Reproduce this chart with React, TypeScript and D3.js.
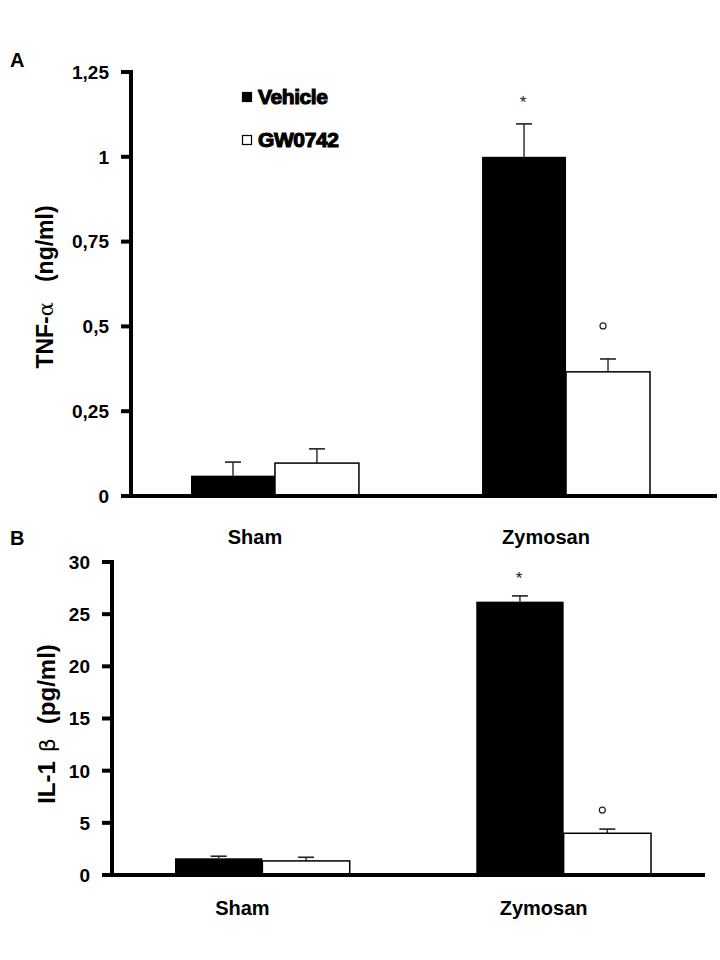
import React, { useEffect, useRef } from "react";
import * as d3 from "d3";

const categories = ["Sham", "Zymosan"];
const seriesNames = ["Vehicle", "GW0742"];

// panel A: TNF-alpha (ng/ml)
const tnfVehicle = [0.06, 1.0];
const tnfVehicleErr = [0.04, 0.097];
const tnfGw = [0.097, 0.366];
const tnfGwErr = [0.042, 0.038];
const tnfTicks = [0, 0.25, 0.5, 0.75, 1, 1.25];
const tnfTickLabels = ["0", "0,25", "0,5", "0,75", "1", "1,25"];

// panel B: IL-1 beta (pg/ml)
const ilVehicle = [1.6, 26.2];
const ilVehicleErr = [0.2, 0.55];
const ilGw = [1.35, 4.0];
const ilGwErr = [0.35, 0.4];
const ilTicks = [0, 5, 10, 15, 20, 25, 30];
const ilTickLabels = ["0", "5", "10", "15", "20", "25", "30"];

// significance marks: [category, series, symbol]
const tnfMarks = [["Zymosan", "Vehicle", "*"], ["Zymosan", "GW0742", "o"]];
const ilMarks = [["Zymosan", "Vehicle", "*"], ["Zymosan", "GW0742", "o"]];

const FONT = "'Liberation Sans', Arial, sans-serif";

function drawPanel(svg, opts) {
  const { yDomain, yRange, xRange, pad, axisX, axisRight, ticks, tickLabels, vehicle, vehicleErr, gw, gwErr, marks, labelY, markOffsets } = opts;
  const y = d3.scaleLinear().domain(yDomain).range(yRange);
  const x0 = d3.scaleBand().domain(categories).range(xRange).paddingInner(pad).paddingOuter(0);
  const x1 = d3.scaleBand().domain(seriesNames).range([0, x0.bandwidth()]);
  const g = svg.append("g");

  const rows = [];
  categories.forEach((c, i) => {
    rows.push({ cat: c, ser: "Vehicle", v: vehicle[i], e: vehicleErr[i] });
    rows.push({ cat: c, ser: "GW0742", v: gw[i], e: gwErr[i] });
  });

  // error bars (drawn first so bar tops cover the stem base)
  const eb = g.selectAll(".err").data(rows).enter().append("g");
  eb.append("line")
    .attr("x1", (d) => x0(d.cat) + x1(d.ser) + x1.bandwidth() / 2)
    .attr("x2", (d) => x0(d.cat) + x1(d.ser) + x1.bandwidth() / 2)
    .attr("y1", (d) => y(d.v))
    .attr("y2", (d) => y(d.v + d.e))
    .attr("stroke", "#333")
    .attr("stroke-width", 1.5);
  eb.append("line")
    .attr("x1", (d) => x0(d.cat) + x1(d.ser) + x1.bandwidth() / 2 - 8)
    .attr("x2", (d) => x0(d.cat) + x1(d.ser) + x1.bandwidth() / 2 + 8)
    .attr("y1", (d) => y(d.v + d.e))
    .attr("y2", (d) => y(d.v + d.e))
    .attr("stroke", "#222")
    .attr("stroke-width", 1.6);

  g.selectAll(".bar").data(rows).enter().append("rect")
    .attr("x", (d) => x0(d.cat) + x1(d.ser))
    .attr("y", (d) => y(d.v))
    .attr("width", x1.bandwidth())
    .attr("height", (d) => y(0) - y(d.v))
    .attr("fill", (d) => (d.ser === "Vehicle" ? "#000" : "#fff"))
    .attr("stroke", "#000")
    .attr("stroke-width", (d) => (d.ser === "Vehicle" ? 0 : 1.5));

  // significance marks
  marks.forEach(([c, s, sym]) => {
    const row = rows.find((r) => r.cat === c && r.ser === s);
    const cx = x0(c) + x1(s) + x1.bandwidth() / 2;
    const top = y(row.v + row.e);
    if (sym === "*") {
      g.append("text").attr("x", cx - 1).attr("y", top - markOffsets[0])
        .attr("text-anchor", "middle").attr("font-family", FONT)
        .attr("font-size", 17).attr("fill", "#222").text("*");
    } else {
      g.append("circle").attr("cx", cx - 5).attr("cy", top - markOffsets[1])
        .attr("r", 3).attr("fill", "none").attr("stroke", "#222").attr("stroke-width", 1.2);
    }
  });

  // axes
  g.append("line").attr("x1", axisX).attr("x2", axisX)
    .attr("y1", y(yDomain[1]) - 2).attr("y2", y(0) + 2)
    .attr("stroke", "#000").attr("stroke-width", 4);
  g.append("line").attr("x1", axisX - 10).attr("x2", axisRight)
    .attr("y1", y(0)).attr("y2", y(0))
    .attr("stroke", "#000").attr("stroke-width", 4);
  ticks.forEach((t, i) => {
    g.append("line").attr("x1", axisX - 10).attr("x2", axisX)
      .attr("y1", y(t)).attr("y2", y(t))
      .attr("stroke", "#000").attr("stroke-width", 4);
    g.append("text").attr("x", axisX - 22).attr("y", y(t)).attr("dy", "0.36em")
      .attr("text-anchor", "end").attr("font-family", FONT)
      .attr("font-weight", "bold").attr("font-size", 19).text(tickLabels[i]);
  });

  // category labels
  g.selectAll(".cat").data(categories).enter().append("text")
    .attr("x", (d) => x0(d) + x0.bandwidth() / 2 - 20)
    .attr("y", labelY)
    .attr("text-anchor", "middle").attr("font-family", FONT)
    .attr("font-weight", "bold").attr("font-size", 20).text((d) => d);
}

const App = () => {
  const ref = useRef(null);

  useEffect(() => {
    const svg = d3.select(ref.current);
    svg.selectAll("*").remove();

    drawPanel(svg, {
      yDomain: [0, 1.25], yRange: [496, 72], xRange: [191, 650], pad: 0.423,
      axisX: 131, axisRight: 717, ticks: tnfTicks, tickLabels: tnfTickLabels,
      vehicle: tnfVehicle, vehicleErr: tnfVehicleErr, gw: tnfGw, gwErr: tnfGwErr,
      marks: tnfMarks, labelY: 544, markOffsets: [16, 33],
    });
    drawPanel(svg, {
      yDomain: [0, 30], yRange: [875, 562], xRange: [175, 651], pad: 0.42,
      axisX: 112, axisRight: 705, ticks: ilTicks, tickLabels: ilTickLabels,
      vehicle: ilVehicle, vehicleErr: ilVehicleErr, gw: ilGw, gwErr: ilGwErr,
      marks: ilMarks, labelY: 915, markOffsets: [12, 19],
    });

    // panel letters
    svg.append("text").attr("x", 10).attr("y", 67).attr("font-family", FONT)
      .attr("font-weight", "bold").attr("font-size", 20).text("A");
    svg.append("text").attr("x", 10).attr("y", 545).attr("font-family", FONT)
      .attr("font-weight", "bold").attr("font-size", 20).text("B");

    // legend
    const leg = svg.append("g");
    seriesNames.forEach((s, i) => {
      leg.append("rect").attr("x", 242.5).attr("y", 92.5 + i * 43).attr("width", 9).attr("height", 9)
        .attr("fill", i === 0 ? "#000" : "#fff").attr("stroke", "#000").attr("stroke-width", 1.2);
      leg.append("text").attr("x", 258).attr("y", 104 + i * 43).attr("font-family", FONT)
        .attr("font-weight", "bold").attr("font-size", 21)
        .attr("stroke", "#000").attr("stroke-width", 1.1).attr("letter-spacing", -0.4).text(s);
    });

    // y titles
    const tA = svg.append("text").attr("transform", "translate(53,287) rotate(-90)")
      .attr("text-anchor", "middle").attr("font-family", FONT).attr("font-size", 23);
    tA.append("tspan").attr("font-weight", "bold").text("TNF-");
    tA.append("tspan").attr("font-family", "'DejaVu Serif', serif").attr("font-size", 21).text("α");
    tA.append("tspan").attr("dx", 20).attr("font-weight", "bold").text("(ng/ml)");

    const tB = svg.append("text").attr("transform", "translate(55,724) rotate(-90)")
      .attr("text-anchor", "middle").attr("font-family", FONT).attr("font-size", 24);
    tB.append("tspan").attr("font-weight", "bold").text("IL-1");
    tB.append("tspan").attr("dx", 9).attr("font-family", "'DejaVu Sans', sans-serif").attr("font-size", 22).text("β");
    tB.append("tspan").attr("dx", 14).attr("font-weight", "bold").text("(pg/ml)");
  }, []);

  return (
    <div style={{ position: "absolute", left: 0, top: 0, background: "#fff" }}>
      <svg ref={ref} width={720} height={960}></svg>
    </div>
  );
};

export default App;
